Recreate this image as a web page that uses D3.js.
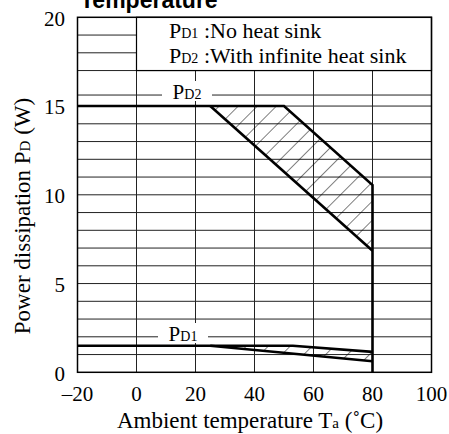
<!DOCTYPE html>
<html>
<head>
<meta charset="utf-8">
<title>Power dissipation vs ambient temperature</title>
<style>
  body { margin: 0; background: #fff; }
</style>
</head>
<body>
<script src="https://d3js.org/d3.v7.min.js"></script>
<script>
// axis ticks
const xTicks = [-20, 0, 20, 40, 60, 80, 100];
const yTicks = [0, 5, 10, 15, 20];
// horizontal rules (W); the 16 W rule is replaced by the PD2 label rule
const gridW = [1, 2, 3, 4, 5, 6, 7, 8, 9, 10, 11, 12, 13, 14, 15, 15.62, 17, 18, 19];

// derating curves [Ta (°C), PD (W)]
const pd2Upper = [[-20, 15], [50, 15], [80, 10.55], [80, 0]];
const pd2Lower = [[25, 15], [80, 6.85]];
const pd1Upper = [[-20, 1.5], [53, 1.5], [80, 1.15]];
const pd1Lower = [[25, 1.5], [80, 0.62]];

// hatched bands
const pd2Band = [[25, 15], [50, 15], [80, 10.55], [80, 6.85]];
const pd1Band = [[25, 1.5], [53, 1.5], [80, 1.15], [80, 0.62]];

const legendLines = [
  { sub: "D1", text: " :No heat sink" },
  { sub: "D2", text: " :With infinite heat sink" }
];

const SERIF = "'Liberation Serif', 'Times New Roman', serif";
const W = 449, H = 434;
const x = d3.scaleLinear().domain([-20, 100]).range([77.5, 431.5]);
const y = d3.scaleLinear().domain([0, 20]).range([372.3, 17.3]);

const svg = d3.select("body").append("svg")
  .attr("width", W).attr("height", H);

// clipped title (only lower part shows in the original)
svg.append("text")
  .attr("x", 80).attr("y", 8)
  .attr("font-family", "'Liberation Sans', Arial, sans-serif")
  .attr("font-weight", "bold")
  .attr("font-size", 23)
  .text("Temperature");

// grid
const grid = svg.append("g").attr("stroke", "#222").attr("stroke-width", 1);
grid.selectAll(".gy").data(gridW).enter().append("line")
  .attr("x1", x(-20)).attr("x2", x(100))
  .attr("y1", d => y(d)).attr("y2", d => y(d));
grid.selectAll(".gx").data(xTicks.slice(1, -1)).enter().append("line")
  .attr("y1", y(0)).attr("y2", y(20))
  .attr("x1", d => x(d)).attr("x2", d => x(d));

// legend box
svg.append("rect")
  .attr("x", x(0)).attr("y", y(20))
  .attr("width", x(100) - x(0)).attr("height", y(17) - y(20))
  .attr("fill", "#fff").attr("stroke", "#000").attr("stroke-width", 1.2);

const leg = svg.append("g").attr("font-family", SERIF);
legendLines.forEach((d, i) => {
  const t = leg.append("text")
    .attr("x", 169).attr("y", 38 + i * 25)
    .attr("font-size", 22);
  t.append("tspan").text("P");
  t.append("tspan").attr("font-size", 14).text(d.sub);
  t.append("tspan").text(d.text);
});

// hatch patterns
const defs = svg.append("defs");
function hatch(id, step) {
  const p = defs.append("pattern")
    .attr("id", id).attr("patternUnits", "userSpaceOnUse")
    .attr("width", step).attr("height", step)
    .attr("patternTransform", "rotate(45)");
  p.append("line").attr("x1", 0).attr("y1", 0).attr("x2", 0).attr("y2", step)
    .attr("stroke", "#000").attr("stroke-width", 1);
}
hatch("h2", 13.5);
hatch("h1", 15.5);

const poly = d3.line().x(d => x(d[0])).y(d => y(d[1]));
svg.append("path").attr("d", poly(pd2Band) + "Z").attr("fill", "url(#h2)");
svg.append("path").attr("d", poly(pd1Band) + "Z").attr("fill", "url(#h1)");

// curve labels with white background
function curveLabel(cx, baseline, sub) {
  svg.append("rect")
    .attr("x", cx - 25).attr("y", baseline - 18)
    .attr("width", 50).attr("height", 20).attr("fill", "#fff");
  const t = svg.append("text")
    .attr("x", cx).attr("y", baseline)
    .attr("text-anchor", "middle")
    .attr("font-family", SERIF)
    .attr("font-size", 21);
  t.append("tspan").text("P");
  t.append("tspan").attr("font-size", 14).text(sub);
}
curveLabel(187, 99, "D2");
curveLabel(183, 341, "D1");

// curves
[pd2Upper, pd2Lower, pd1Upper, pd1Lower].forEach(c => {
  svg.append("path").attr("d", poly(c))
    .attr("fill", "none").attr("stroke", "#000")
    .attr("stroke-width", 2.6).attr("stroke-linejoin", "miter");
});

// frame
svg.append("rect")
  .attr("x", x(-20)).attr("y", y(20))
  .attr("width", x(100) - x(-20)).attr("height", y(0) - y(20))
  .attr("fill", "none").attr("stroke", "#000").attr("stroke-width", 1.5);

// tick labels
svg.selectAll(".xt").data(xTicks).enter().append("text")
  .attr("x", d => x(d)).attr("y", 401)
  .attr("text-anchor", "middle")
  .attr("font-family", SERIF)
  .attr("font-size", 21)
  .text(d => d < 0 ? "\u2013" + Math.abs(d) : d);
svg.selectAll(".yt").data(yTicks).enter().append("text")
  .attr("x", 65).attr("y", d => y(d))
  .attr("dy", "0.4em")
  .attr("text-anchor", "end")
  .attr("font-family", SERIF)
  .attr("font-size", 21)
  .text(d => d);

// axis titles
const xt = svg.append("text")
  .attr("x", 250).attr("y", 428)
  .attr("text-anchor", "middle")
  .attr("font-family", SERIF)
  .attr("font-size", 23);
xt.append("tspan").text("Ambient temperature T");
xt.append("tspan").attr("font-size", 15).text("a");
xt.append("tspan").text(" (\u02daC)");

const yt = svg.append("text")
  .attr("transform", "translate(30,216) rotate(-90)")
  .attr("text-anchor", "middle")
  .attr("font-family", SERIF)
  .attr("font-size", 23);
yt.append("tspan").text("Power dissipation P");
yt.append("tspan").attr("font-size", 15).text("D");
yt.append("tspan").text(" (W)");
</script>
</body>
</html>
